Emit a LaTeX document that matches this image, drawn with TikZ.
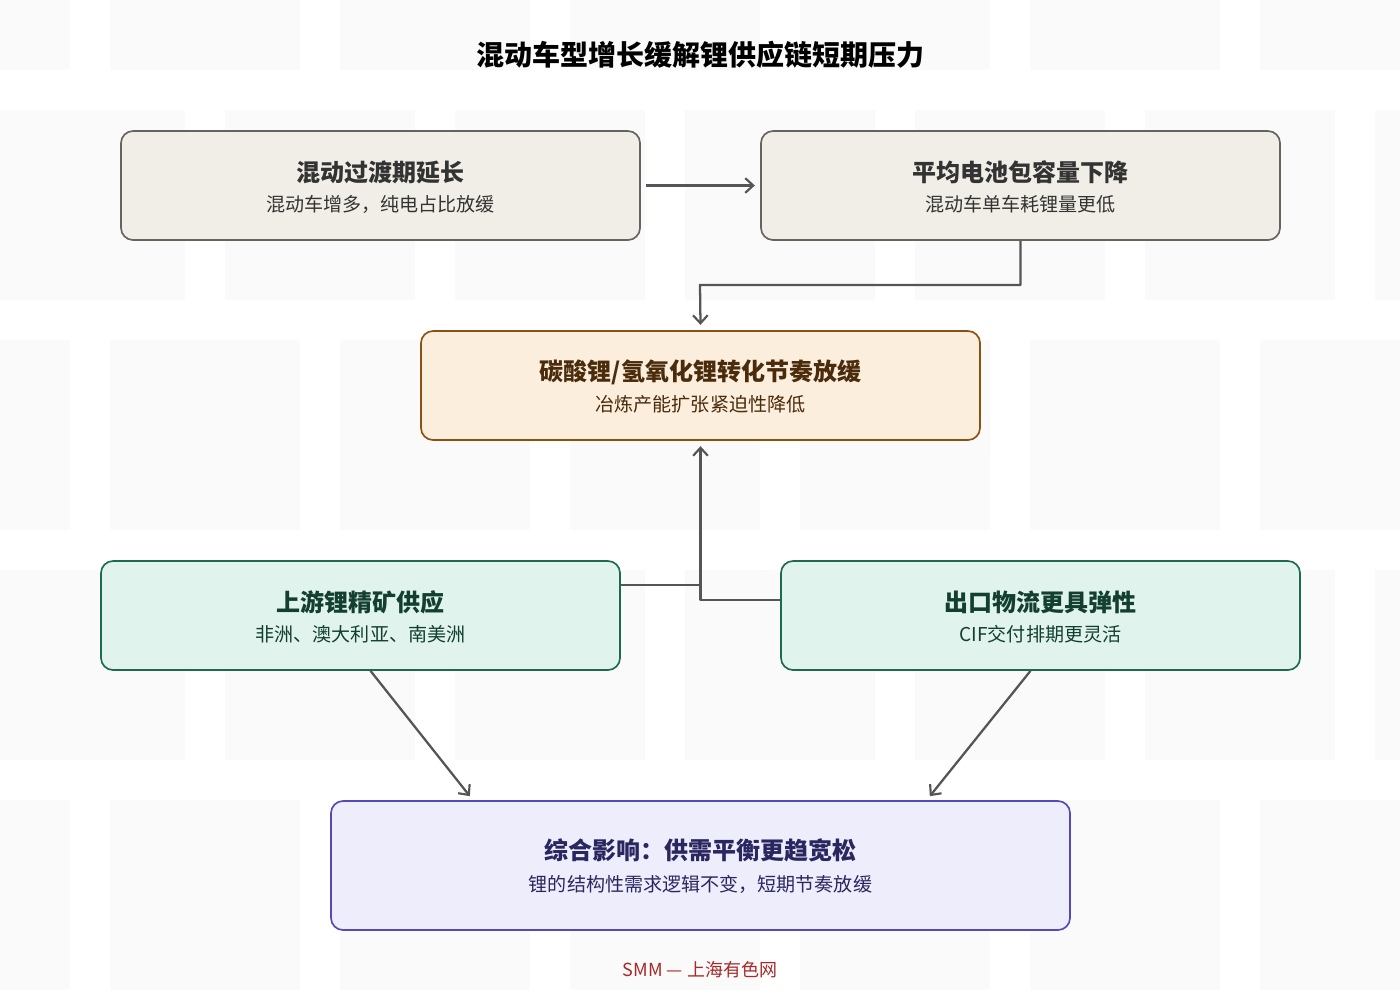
\documentclass[tikz,border=0pt]{standalone}
\usepackage{fontspec}
\setmainfont{Noto Sans CJK SC}
\usetikzlibrary{arrows.meta}
\definecolor{wmgray}{HTML}{FAFAFA}
\definecolor{linegray}{HTML}{555555}
\definecolor{greyfill}{HTML}{F1EEE7}
\definecolor{greydraw}{HTML}{66635C}
\definecolor{greytext}{HTML}{333333}
\definecolor{tanfill}{HTML}{FBEEDC}
\definecolor{tandraw}{HTML}{8A5212}
\definecolor{tantext}{HTML}{4A2C0C}
\definecolor{mintfill}{HTML}{E0F3EC}
\definecolor{mintdraw}{HTML}{1E6A50}
\definecolor{minttext}{HTML}{123F30}
\definecolor{lilacfill}{HTML}{EEEDFC}
\definecolor{lilacdraw}{HTML}{5548B8}
\definecolor{lilactext}{HTML}{2A2660}
\definecolor{smmred}{HTML}{A52A2A}
\begin{document}
\begin{tikzpicture}[x=0.75pt, y=-0.75pt, line join=round, >={Straight Barb[length=6pt,width=11pt,line width=1.6pt]},
  box/.style={draw, rounded corners=9pt, line width=1.25pt, minimum height=81.75pt, minimum width=389.25pt, inner sep=0pt},
  greybox/.style={box, draw=greydraw, fill=greyfill},
  tanbox/.style={box, draw=tandraw, fill=tanfill, minimum width=419.25pt},
  mintbox/.style={box, draw=mintdraw, fill=mintfill},
  lilacbox/.style={box, draw=lilacdraw, fill=lilacfill, minimum width=554.25pt, minimum height=96.75pt},
  head/.style={font=\bfseries\fontsize{18}{20}\selectfont, inner sep=0pt},
  sub/.style={font=\fontsize{14.3}{16}\selectfont, inner sep=0pt},
  link/.style={->, draw=linegray, line width=1.7pt}]
\useasboundingbox (0,0) rectangle (1400,1000);
% faint watermark tiles
\begin{scope}
\clip (0,0) rectangle (1400,1000);
\foreach \r in {-120,340,800} \foreach \c in {-120,110,...,1260} \fill[wmgray] (\c,\r) rectangle ++(190,190);
\foreach \r in {110,570} \foreach \c in {-5,225,...,1375} \fill[wmgray] (\c,\r) rectangle ++(190,190);
\end{scope}
\node[font=\bfseries\fontsize{21}{24}\selectfont] (title) at (700,55) {混动车型增长缓解锂供应链短期压力};
% boxes
\node[greybox] (a) at (380.5,185.5) {};
\node[head, text=greytext] (a-t) at (380.5,172) {混动过渡期延长};
\node[sub, text=greytext] (a-s) at (380.5,204) {混动车增多，纯电占比放缓};
\node[greybox] (b) at (1020.5,185.5) {};
\node[head, text=greytext] (b-t) at (1020.5,172) {平均电池包容量下降};
\node[sub, text=greytext] (b-s) at (1020.5,204) {混动车单车耗锂量更低};
\node[tanbox] (c) at (700.5,385.5) {};
\node[head, text=tantext] (c-t) at (700.5,372) {碳酸锂/氢氧化锂转化节奏放缓};
\node[sub, text=tantext] (c-s) at (700.5,404) {冶炼产能扩张紧迫性降低};
\node[mintbox] (d) at (360.5,615.5) {};
\node[head, text=minttext] (d-t) at (360.5,602) {上游锂精矿供应};
\node[sub, text=minttext] (d-s) at (360.5,634) {非洲、澳大利亚、南美洲};
\node[mintbox] (e) at (1040.5,615.5) {};
\node[head, text=minttext] (e-t) at (1040.5,602) {出口物流更具弹性};
\node[sub, text=minttext] (e-s) at (1040.5,634) {CIF交付排期更灵活};
\node[lilacbox] (f) at (700.5,865.5) {};
\node[head, text=lilactext] (f-t) at (700.5,850) {综合影响：供需平衡更趋宽松};
\node[sub, text=lilactext] (f-s) at (700.5,884) {锂的结构性需求逻辑不变，短期节奏放缓};
\node[font=\fontsize{13.5}{16}\selectfont, text=smmred] (foot) at (700,970) {SMM — 上海有色网};
% connectors
\draw[link] ([xshift=4pt]a.east) -- ([xshift=-4pt]b.west);
\draw[link] (b.south) |- (700,285) -- ([yshift=4pt]c.north);
\draw[link, -] (d.east|-0,585) -- (700,585);
\draw[link] (e.west|-0,600) -| ([yshift=-4pt]c.south);
\draw[link] ([xshift=7.5pt]d.south) -- ([xshift=-173pt,yshift=3pt]f.north);
\draw[link] ([xshift=-7.5pt]e.south) -- ([xshift=172pt,yshift=3pt]f.north);
\end{tikzpicture}
\end{document}
